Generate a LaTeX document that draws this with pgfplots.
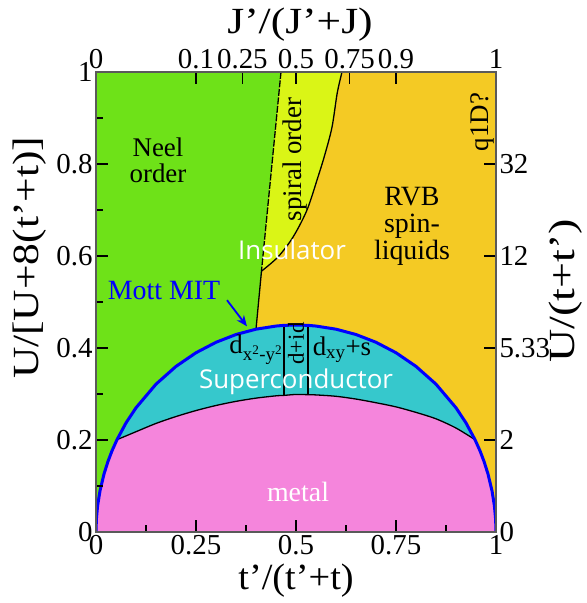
\documentclass[border=0pt]{standalone}
\usepackage{fontspec}
\setmainfont{Liberation Serif}
\newfontfamily\sansf{Open Sans}
\usepackage{graphicx}
\usepackage{pgfplots}
\pgfplotsset{compat=1.18}
\usetikzlibrary{arrows.meta}
\definecolor{neel}{RGB}{110,226,24}
\definecolor{spiral}{RGB}{218,245,22}
\definecolor{rvb}{RGB}{244,202,36}
\definecolor{sc}{RGB}{54,200,204}
\definecolor{metal}{RGB}{245,133,220}
\definecolor{frame}{RGB}{90,90,90}
\newcommand\fs[1]{\fontsize{#1}{#1}\selectfont}
\begin{document}
\begin{tikzpicture}[x=1bp,y=1bp]
\begin{axis}[
  at={(0,0)}, anchor=south west,
  scale only axis, width=400bp, height=460bp,
  xmin=0, xmax=1, ymin=0, ymax=1,
  axis on top,
  xtick pos=bottom, ytick pos=left,
  xtick={0,0.25,0.5,0.75,1}, xticklabels={0,0.25,0.5,0.75,1},
  minor xtick={0.125,0.375,0.625,0.875},
  ytick={0,0.2,0.4,0.6,0.8,1}, yticklabels={0,0.2,0.4,0.6,0.8,1},
  minor ytick={0.1,0.3,0.5,0.7,0.9},
  tick align=inside, major tick length=12bp, minor tick length=7bp,
  tick style={line width=1.2bp, black},
  axis line style={line width=1.3bp, frame},
  /pgf/number format/assume math mode=true,
  ticklabel style={font=\fs{29}},
  xlabel={\scalebox{1.04}[1]{t’/(t’+t)}},
  xlabel style={font=\fs{37}, at={(axis description cs:0.5,-0.105)}, anchor=center},
  ylabel={\scalebox{1.18}[1]{U/[U+8(t’+t)]}},
  ylabel style={font=\fs{37}, at={(axis description cs:-0.165,0.596)}, anchor=center},
]
% RVB background
\addplot[fill=rvb, draw=none] coordinates {(0,0) (1,0) (1,1) (0,1)} -- cycle;
% Neel region
\addplot[fill=neel, draw=none] coordinates {
 (0,1) (0.4625,1) (0.40,0.4409) (0.35,0.4293) (0.3,0.4124) (0.25,0.3897) (0.2,0.36)
 (0.15,0.3214) (0.1,0.27) (0.075,0.2371) (0.0525,0.2007) (0.04,0.1764) (0.03,0.1535)
 (0.02,0.126) (0.01,0.0895) (0.004,0.0568) (0.001,0.0284) (0,0)} -- cycle;
% spiral region
\addplot[fill=spiral, draw=none] coordinates {
 (0.4625,1) (0.615,1) (0.603,0.954) (0.59,0.88) (0.572,0.82) (0.555,0.772) (0.5275,0.70)
 (0.4925,0.641) (0.455,0.598) (0.4137,0.567)} -- cycle;
% superconductor (inside Mott curve)
\addplot[fill=sc, draw=none] coordinates {
 (0,0) (0.001,0.0284) (0.004,0.0568) (0.01,0.0895) (0.02,0.126) (0.03,0.1535) (0.04,0.1764)
 (0.0525,0.2007) (0.075,0.2371) (0.1,0.27) (0.15,0.3214) (0.2,0.36) (0.25,0.3897)
 (0.3,0.4124) (0.35,0.4293) (0.4,0.4409) (0.45,0.4477) (0.47,0.4492) (0.5,0.45)
 (0.53,0.4492) (0.55,0.4477) (0.6,0.4409) (0.65,0.4293) (0.7,0.4124) (0.75,0.3897)
 (0.8,0.36) (0.85,0.3214) (0.9,0.27) (0.925,0.2371) (0.9475,0.2007) (0.96,0.1764)
 (0.97,0.1535) (0.98,0.126) (0.99,0.0895) (0.996,0.0568) (0.999,0.0284) (1,0)} -- cycle;
% metal
\addplot[fill=metal, draw=none] coordinates {
 (0.0525,0.2007) (0.1,0.218) (0.15,0.236) (0.2,0.251) (0.25,0.264) (0.3,0.275)
 (0.35,0.284) (0.4,0.291) (0.45,0.296) (0.47,0.297) (0.5,0.299) (0.53,0.2985)
 (0.55,0.298) (0.6,0.295) (0.65,0.289) (0.7,0.281) (0.75,0.272) (0.8,0.260)
 (0.85,0.246) (0.9,0.226) (0.9475,0.2007) (0.96,0.1764) (0.97,0.1535) (0.98,0.126)
 (0.99,0.0895) (0.996,0.0568) (0.999,0.0284) (1,0) (0,0) (0.001,0.0284) (0.004,0.0568)
 (0.01,0.0895) (0.02,0.126) (0.03,0.1535) (0.04,0.1764)} -- cycle;
% boundaries
\addplot[black, line width=1.3bp, dash pattern=on 7bp off 1.5bp] coordinates {(0.4625,1) (0.4137,0.567)};
\addplot[black, line width=1.3bp] coordinates {(0.4137,0.567) (0.40,0.4409)};
\addplot[black, line width=1.3bp, smooth] coordinates {
 (0.615,1) (0.603,0.954) (0.59,0.88) (0.572,0.82) (0.555,0.772) (0.5275,0.70)
 (0.4925,0.641) (0.455,0.598) (0.4137,0.567)};
\addplot[black, line width=1.3bp, smooth] coordinates {
 (0.0525,0.2007) (0.1,0.218) (0.15,0.236) (0.2,0.251) (0.25,0.264) (0.3,0.275)
 (0.35,0.284) (0.4,0.291) (0.45,0.296) (0.47,0.297) (0.5,0.299) (0.53,0.2985)
 (0.55,0.298) (0.6,0.295) (0.65,0.289) (0.7,0.281) (0.75,0.272) (0.8,0.260)
 (0.85,0.246) (0.9,0.226) (0.9475,0.2007)};
\addplot[black, line width=1.3bp] coordinates {(0.47,0.297) (0.47,0.4492)};
\addplot[black, line width=1.3bp] coordinates {(0.53,0.2985) (0.53,0.4492)};
% Mott MIT
\addplot[blue, line width=3bp] coordinates {
 (0,0) (0.001,0.0284) (0.004,0.0568) (0.01,0.0895) (0.02,0.126) (0.03,0.1535) (0.04,0.1764)
 (0.0525,0.2007) (0.075,0.2371) (0.1,0.27) (0.15,0.3214) (0.2,0.36) (0.25,0.3897)
 (0.3,0.4124) (0.35,0.4293) (0.4,0.4409) (0.45,0.4477) (0.47,0.4492) (0.5,0.45)
 (0.53,0.4492) (0.55,0.4477) (0.6,0.4409) (0.65,0.4293) (0.7,0.4124) (0.75,0.3897)
 (0.8,0.36) (0.85,0.3214) (0.9,0.27) (0.925,0.2371) (0.9475,0.2007) (0.96,0.1764)
 (0.97,0.1535) (0.98,0.126) (0.99,0.0895) (0.996,0.0568) (0.999,0.0284) (1,0)};
\draw[blue, line width=1.8bp, -{Stealth[length=11bp,width=9bp]}] (axis cs:0.3275,0.504) -- (axis cs:0.3775,0.447);
% labels
\node[font=\fs{27}, align=center, inner sep=0pt] at (axis cs:0.155,0.809) {Neel\\[-1pt]order};
\node[font=\fs{27}, rotate=90, inner sep=0pt] at (axis cs:0.4975,0.81) {spiral order};
\node[font=\fs{28}, align=center, inner sep=0pt] at (axis cs:0.79,0.665) {RVB\\[-1pt]spin-\\[-1pt]liquids};
\node[font=\fs{27}, rotate=90, inner sep=0pt] at (axis cs:0.965,0.891) {q1D?};
\node[font=\sansf\fs{26}, white, inner sep=0pt] at (axis cs:0.49,0.613) {Insulator};
\node[font=\sansf\fs{26}, white, inner sep=0pt] at (axis cs:0.5,0.326) {Superconductor};
\node[font=\fs{28}, blue, inner sep=0pt] at (axis cs:0.17,0.526) {Mott MIT};
\node[font=\fs{27}, inner sep=0pt] at (axis cs:0.40,0.396) {d\textsubscript{x\textsuperscript{2}-y\textsuperscript{2}}};
\node[font=\fs{27}, inner sep=0pt] at (axis cs:0.615,0.396) {d\textsubscript{xy}+s};
\node[font=\fs{23}, rotate=90, inner sep=0pt] at (axis cs:0.5,0.41) {d+id};
\node[font=\fs{28}, white, inner sep=0pt] at (axis cs:0.505,0.087) {metal};
\end{axis}
\begin{axis}[
  at={(0,0)}, anchor=south west,
  scale only axis, width=400bp, height=460bp,
  xmin=0, xmax=1, ymin=0, ymax=1,
  xtick pos=top, ytick pos=right,
  xtick={0,0.25,0.366,0.5,0.634,0.75,1}, xticklabels={0,0.1,0.25,0.5,0.75,0.9,1},
  ytick={0,0.2,0.4,0.6,0.8}, yticklabels={0,2,5.33,12,32},
  tick align=inside, major tick length=12bp,
  tick style={line width=1.2bp, black},
  axis line style={line width=1.3bp, frame},
  /pgf/number format/assume math mode=true,
  ticklabel style={font=\fs{29}},
  xlabel={\scalebox{1.18}[1]{J’/(J’+J)}},
  xlabel style={font=\fs{37}, at={(axis description cs:0.51,1.104)}, anchor=center},
  ylabel={\scalebox{1.25}[1]{U/(t+t’)}},
  ylabel style={font=\fs{37}, at={(axis description cs:1.175,0.524)}, anchor=center},
]
\end{axis}
\pgfresetboundingbox
\path (-96,-71) rectangle (491,532);
\end{tikzpicture}
\end{document}
